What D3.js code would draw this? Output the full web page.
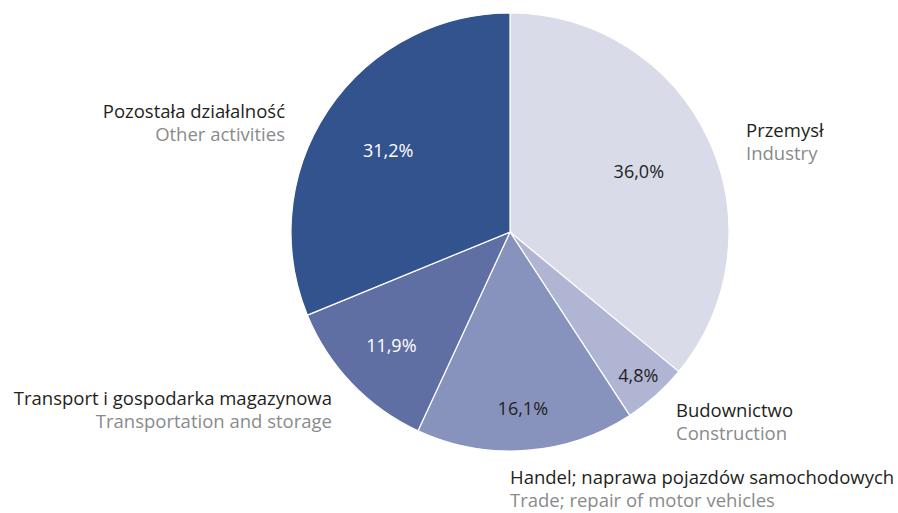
<!DOCTYPE html>
<html><head><meta charset="utf-8">
<script src="https://cdn.jsdelivr.net/npm/d3@7"></script>
<style>body{margin:0;background:#fff}</style>
</head><body>
<svg id="chart" width="898" height="513"></svg>
<script>
const categoriesPL = ["Przemysł","Budownictwo","Handel; naprawa pojazdów samochodowych","Transport i gospodarka magazynowa","Pozostała działalność"];
const categoriesEN = ["Industry","Construction","Trade; repair of motor vehicles","Transportation and storage","Other activities"];
const values = [36.0, 4.8, 16.1, 11.9, 31.2];
const valueLabels = ["36,0%","4,8%","16,1%","11,9%","31,2%"];
const colors = ["#d9dbe9","#b1b5d4","#8893bd","#5f6fa3","#33538e"];

const cx = 510, cy = 232, R = 219;
const labelRadius = [0.65, 0.88, 0.81, 0.75, 0.67];
const pctColor = ["#231f20","#231f20","#231f20","#ffffff","#ffffff"];
// outer labels: [x, baselineY, anchor, lineGap]
const outer = [[746,137,"start",23],[676,417,"start",23],[510,484,"start",23],[332,405,"end",23],[285,118,"end",23]];
const font = "'Open Sans', sans-serif";

const svg = d3.select("#chart");
const g = svg.append("g").attr("transform",`translate(${cx},${cy})`);
const pie = d3.pie().sort(null).value(d=>d)(values);
const arc = d3.arc().innerRadius(0).outerRadius(R);
g.selectAll("path").data(pie).join("path")
  .attr("d",arc).attr("fill",(d,i)=>colors[i])
  .attr("stroke","#fff").attr("stroke-width",1.2);

g.selectAll("text.pct").data(pie).join("text").attr("class","pct")
  .attr("transform",(d,i)=>{const a=(d.startAngle+d.endAngle)/2, r=R*labelRadius[i];return `translate(${Math.sin(a)*r},${-Math.cos(a)*r})`;})
  .attr("text-anchor","middle").attr("dy","0.35em")
  .attr("font-family",font).attr("font-size",18)
  .attr("fill",(d,i)=>pctColor[i]).text((d,i)=>valueLabels[i]);

const lab = svg.selectAll("g.lab").data(outer).join("g").attr("class","lab");
lab.append("text").attr("x",d=>d[0]).attr("y",d=>d[1]).attr("text-anchor",d=>d[2])
  .attr("font-family",font).attr("font-size",18.5).attr("fill","#231f20")
  .text((d,i)=>categoriesPL[i]);
lab.append("text").attr("x",d=>d[0]).attr("y",d=>d[1]+d[3]).attr("text-anchor",d=>d[2])
  .attr("font-family",font).attr("font-size",18.5).attr("fill","#8a8a8c")
  .text((d,i)=>categoriesEN[i]);
</script>
</body></html>
